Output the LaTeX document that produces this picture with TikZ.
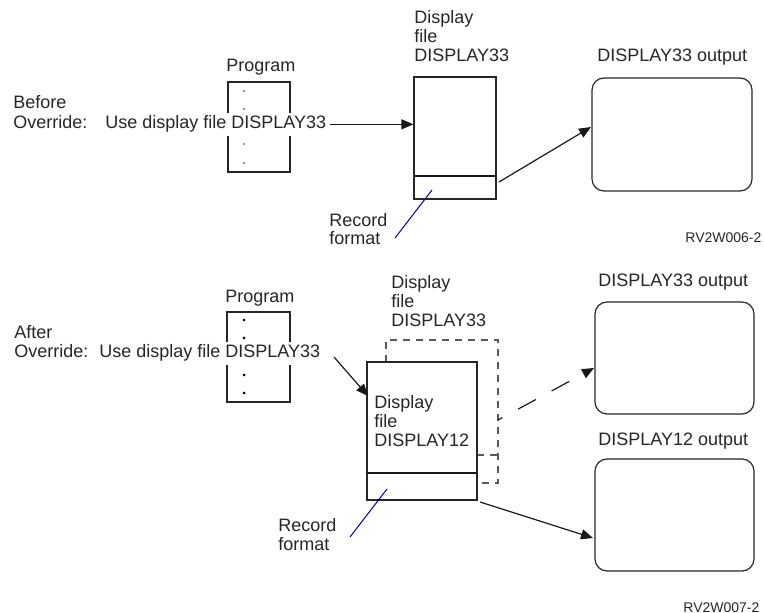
\documentclass[tikz,border=0pt]{standalone}
\usepackage{fontspec}
\setmainfont{Liberation Sans}
\usetikzlibrary{arrows.meta,calc}
\begin{document}
\begin{tikzpicture}[x=0.5pt,y=-0.5pt,
  txt/.style={anchor=base west,inner sep=0pt,font=\fontsize{9}{11}\selectfont,text=black!85},
  small/.style={anchor=base west,inner sep=0pt,font=\fontsize{7}{8.5}\selectfont,text=black!85},
  box/.style={draw=black!85,line width=0.6pt,fill=white,inner sep=0pt},
  outbox/.style={draw=black!85,line width=0.6pt,rounded corners=6pt,inner sep=0pt},
  conn/.style={draw=black!90,line width=0.6pt},
  arr/.style={conn,-{Triangle[length=6pt,width=5pt]}},
  dasharr/.style={arr,dash pattern=on 10pt off 9pt,dash phase=7.5pt},
  dbox/.style={draw=black!65,line width=0.6pt,dash pattern=on 3.5pt off 3pt},
  blueline/.style={draw=blue!60!black,line width=0.5pt}]
\useasboundingbox (0,0) rectangle (764,613);

% ---------------- top part ----------------
\node[txt] (prog1lbl) at (226,72) {Program};
\node[box,minimum width=31pt,minimum height=45pt] (prog1) at (259,127) {};
\foreach \yy in {91,109,144,163} \fill[black!85] (244,\yy) circle[radius=0.45pt];
\node[txt] (before) at (13,109) {Before};
\node[txt] (ovr1) at (13,129) {Override:};
\node[txt,fill=white,inner sep=1.5pt] (use1) at (102,129) {Use display file DISPLAY33};

\node[txt] (d1a) at (414,24) {Display};
\node[txt] (d1b) at (414,43) {file};
\node[txt] (d1c) at (414,62) {DISPLAY33};
\node[box,minimum width=41pt,minimum height=61pt] (disp1) at (455,138) {};
\draw[conn] (414,176) -- (496,176);

\node[txt] (o1lbl) at (597,62) {DISPLAY33 output};
\node[outbox,minimum width=80pt,minimum height=56.5pt] (out1) at (672,134.5) {};

\node[txt] (rec1a) at (329,227) {Record};
\node[txt] (rec1b) at (329,245) {format};
\node[small] (rv1) at (685,243) {RV2W006-2};

\coordinate (a1s) at (499,182);
\coordinate (a1e) at (591,127);
\coordinate (b1s) at (395,238);
\coordinate (b1e) at (432,190);
\draw[arr] (use1.east) -- (use1.east -| disp1.west);
\draw[arr] (a1s) -- (a1e);
\draw[blueline] (b1s) -- (b1e);

% ---------------- bottom part ----------------
\node[txt] (prog2lbl) at (225,303) {Program};
\node[box,minimum width=31.5pt,minimum height=45pt] (prog2) at (258.5,357) {};
\foreach \yy in {320,338,375,393} \fill[black] (244,\yy) circle[radius=0.75pt];
\node[txt] (after) at (14,339) {After};
\node[txt] (ovr2) at (14,358) {Override:};
\node[txt,fill=white,inner sep=1.5pt] (use2) at (96,358) {Use display file DISPLAY33};

\node[txt] (d2a) at (391,289) {Display};
\node[txt] (d2b) at (391,308) {file};
\node[txt] (d2c) at (391,327) {DISPLAY33};
% dashed (overridden) display file
\draw[dbox] (386,362) -- (386,340) -- (498,340) -- (498,483) -- (386,483);
\draw[dbox] (386,455) -- (498,455);
% DISPLAY12 display file
\node[box,minimum width=55pt,minimum height=69pt] (disp12) at (422,431) {};
\draw[conn] (367,473) -- (477,473);
\node[txt] (d3a) at (374,409) {Display};
\node[txt] (d3b) at (374,428) {file};
\node[txt] (d3c) at (374,447) {DISPLAY12};

\node[txt] (o2lbl) at (598,287) {DISPLAY33 output};
\node[outbox,minimum width=79.5pt,minimum height=56pt] (out2a) at (674.5,358) {};
\node[txt] (o3lbl) at (598,446) {DISPLAY12 output};
\node[outbox,minimum width=79.5pt,minimum height=56pt] (out2b) at (674.5,515) {};

\node[txt] (rec2a) at (278,531) {Record};
\node[txt] (rec2b) at (278,550) {format};
\node[small] (rv2) at (683,612) {RV2W007-2};

\coordinate (a2s) at (334,357);
\coordinate (a2e) at (368,396);
\coordinate (a3s) at (498,420);
\coordinate (a3e) at (594,368);
\coordinate (a4s) at (480,502);
\coordinate (a4e) at (593,538);
\coordinate (b2s) at (350,537);
\coordinate (b2e) at (387,489);
\draw[arr] (a2s) -- (a2e);
\draw[dasharr] (a3s) -- (a3e);
\draw[arr] (a4s) -- (a4e);
\draw[blueline] (b2s) -- (b2e);
\end{tikzpicture}
\end{document}
